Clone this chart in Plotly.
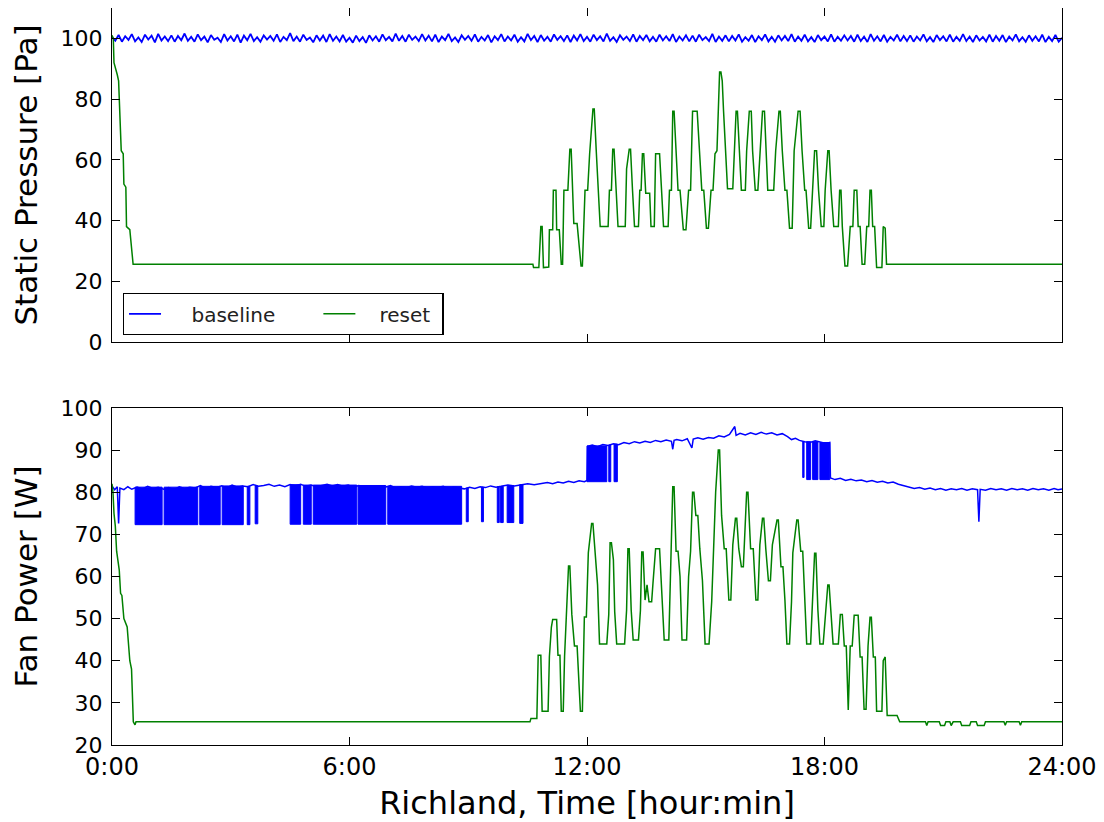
import plotly.graph_objects as go

# ---------------- data ----------------
hour_ticks = [0, 6, 12, 18, 24]
hour_labels = ["0:00", "6:00", "12:00", "18:00", "24:00"]

# Static pressure, baseline [Pa], 5-minute samples from 0:00 to 24:00
baseline_p_min = list(range(0, 1441, 5))
baseline_p_val = [
    100.4, 99.2, 101.1, 98.9, 100.7, 99.5, 101.4, 99.0, 100.3, 98.8, 101.2, 99.6, 100.9, 98.7, 101.5, 99.3, 100.6, 99.1, 101.0, 98.9, 100.8, 99.4, 101.6, 99.2,
    100.5, 98.9, 101.3, 99.4, 100.6, 98.7, 101.1, 99.5, 100.2, 98.8, 101.4, 99.3, 100.7, 99.0, 101.2, 98.6, 100.9, 99.4, 101.5, 99.1, 100.4, 98.9, 101.0, 99.6,
    100.8, 99.2, 101.3, 98.8, 100.5, 99.4, 101.7, 99.1, 100.6, 98.9, 101.2, 99.5, 100.3, 98.7, 101.0, 99.3, 100.9, 98.8, 101.4, 99.2, 100.6, 99.0, 101.1, 98.9,
    100.2, 98.6, 100.9, 99.1, 100.4, 98.5, 101.0, 99.3, 100.7, 98.9, 101.3, 99.4, 100.5, 99.0, 101.6, 99.2, 100.8, 98.9, 101.2, 99.5, 100.6, 99.1, 101.4, 99.3,
    100.9, 99.0, 101.2, 98.8, 100.6, 99.4, 101.5, 99.1, 100.3, 98.8, 101.0, 99.5, 100.8, 99.2, 101.3, 98.9, 100.5, 99.3, 101.1, 98.7, 100.7, 99.4, 101.4, 99.0,
    100.6, 99.3, 101.2, 98.9, 100.4, 99.0, 101.5, 99.4, 100.8, 98.8, 101.1, 99.2, 100.5, 98.9, 101.3, 99.5, 100.7, 99.1, 101.0, 98.8, 100.9, 99.3, 101.4, 99.1,
    100.5, 98.9, 101.2, 99.4, 100.7, 99.0, 101.6, 99.2, 100.4, 98.8, 101.0, 99.5, 100.6, 99.1, 101.3, 98.9, 100.8, 99.4, 101.1, 99.0, 100.5, 98.9, 101.2, 99.3,
    100.7, 99.1, 101.4, 98.8, 100.6, 99.3, 101.0, 99.0, 100.9, 98.9, 101.2, 99.4, 100.4, 99.1, 101.5, 98.8, 100.6, 99.2, 101.0, 99.0, 100.8, 99.3, 101.3, 98.9,
    100.4, 99.2, 101.1, 98.8, 100.7, 99.4, 101.3, 99.0, 100.5, 98.9, 101.0, 99.3, 100.8, 99.1, 101.4, 98.9, 100.6, 99.2, 101.2, 99.0, 100.4, 98.8, 101.1, 99.4,
    100.6, 99.0, 101.3, 98.9, 100.5, 99.2, 101.0, 99.3, 100.8, 98.9, 101.2, 99.1, 100.6, 98.8, 101.4, 99.2, 100.7, 99.0, 101.1, 98.9, 100.5, 99.3, 101.2, 99.0,
    100.8, 99.1, 101.0, 98.9, 100.6, 99.3, 101.3, 99.0, 100.4, 98.8, 101.1, 99.4, 100.7, 99.0, 101.2, 98.9, 100.5, 99.2, 101.4, 99.1, 100.6, 98.8, 101.0, 99.3,
    100.5, 99.0, 101.2, 98.9, 100.8, 99.2, 101.1, 98.8, 100.6, 99.3, 101.3, 99.0, 100.4, 98.9, 101.0, 99.2, 100.7, 99.0, 101.2, 98.8, 100.5, 99.1, 101.1, 98.9,
    100.2,
]

# Static pressure, reset [Pa]
reset_p_min = [0, 2, 3, 6, 8, 10, 12, 14, 17, 18, 21, 22, 27, 32,
               638, 639, 647, 650, 652, 654, 662, 663, 668, 669, 673, 674, 678, 681, 683, 685,
               691, 694, 696, 698, 700, 705, 711, 713, 717, 721, 724, 729, 731, 734, 737, 740,
               752, 754, 757, 759, 761, 764, 767, 778, 780, 784, 786, 789, 792, 798, 800, 802,
               804, 806, 809, 815, 817, 822, 824, 830, 833, 836, 843, 845, 848, 850, 852, 855,
               858, 861, 866, 870, 874, 877, 880, 887, 891, 894, 897, 901, 904, 908, 911, 914,
               917, 921, 923, 925, 927, 930, 933, 941, 944, 946, 948, 951, 954, 960, 962, 966,
               969, 971, 975, 979, 982, 986, 989, 991, 994, 1003, 1006, 1011, 1013, 1016, 1020,
               1023, 1027, 1031, 1034, 1040, 1043, 1046, 1050, 1052, 1056, 1059, 1062, 1065, 1068,
               1071, 1075, 1079, 1081, 1085, 1087, 1090, 1094, 1101, 1103, 1105, 1107, 1111, 1115,
               1119, 1123, 1125, 1129, 1131, 1134, 1137, 1141, 1144, 1147, 1149, 1151, 1153, 1156,
               1159, 1167, 1169, 1172, 1174, 1440]
reset_p_val = [101, 100, 92, 90, 88, 86, 75, 63, 62, 52, 51, 38, 37, 25.6,
               25.6, 24.5, 24.5, 38, 38, 24.5, 24.7, 37, 37, 50, 50, 37, 37, 25.6, 25.6, 50,
               50, 63.5, 63.5, 51, 39, 39, 25, 25, 50, 50, 62, 76.7, 76.7, 63, 50, 38,
               38, 50, 50, 63.5, 63.5, 50, 38, 38, 57, 63.5, 63.5, 50, 38, 38, 50, 50,
               62, 62, 49, 49, 38, 38, 62, 62, 50, 38, 38, 50, 50, 76, 76, 63,
               50, 50, 37, 37, 50, 50, 76, 76, 63, 50, 50, 37.5, 37.5, 50, 50, 62,
               63, 88.9, 88.9, 86, 76, 63, 50.5, 50.5, 63, 76, 76, 63, 50, 50, 63, 76,
               76, 63, 50, 50, 63, 76, 76, 63, 50, 50, 63, 76, 76, 63, 50,
               50, 37.5, 37.5, 63, 76, 76, 63, 50, 50, 37.5, 37.5, 50, 63, 63,
               50, 38, 38, 50, 63, 63, 50, 38, 38, 50, 50, 38, 25, 25,
               38, 38, 50, 50, 38, 38, 25.6, 25.6, 38, 38, 50, 50, 38, 38,
               24.5, 24.5, 38, 37.5, 25.6, 25.6]

# Fan power, baseline [W] - upper level
baseline_w_min = [0, 4, 8, 10, 12, 18, 24, 30, 38, 46, 54, 62, 70, 78, 86, 94, 102, 110, 118, 126,
                  134, 142, 150, 158, 166, 174, 182, 190, 198, 206, 214, 222, 230, 238, 246, 254,
                  262, 270, 278, 286, 294, 302, 310, 318, 326, 334, 342, 350, 358, 366, 374, 382,
                  390, 398, 406, 414, 422, 430, 438, 446, 454, 462, 470, 478, 486, 494, 502, 510,
                  518, 526, 534, 542, 550, 558, 566, 574, 582, 590, 600, 610, 620, 630, 640, 650,
                  660, 668, 676, 684, 692, 700, 708, 716, 720, 721, 728, 736, 744, 752, 760, 768,
                  776, 784, 792, 800, 808, 816, 824, 832, 840, 848, 850, 852, 856, 864, 872, 879,
                  881, 888, 896, 904, 912, 920, 928, 936, 944, 946, 952, 960, 968, 976, 984, 992,
                  1000, 1008, 1016, 1024, 1030, 1036, 1042, 1050, 1058, 1066, 1074, 1082, 1088, 1089,
                  1096, 1104, 1112, 1120, 1128, 1136, 1144, 1152, 1160, 1168, 1176, 1184, 1192, 1200,
                  1208, 1216, 1224, 1232, 1240, 1248, 1256, 1264, 1272, 1280, 1288, 1296, 1304, 1312,
                  1314, 1316, 1324, 1332, 1340, 1348, 1356, 1364, 1372, 1380, 1388, 1396, 1404, 1412,
                  1420, 1428, 1434, 1440]
baseline_w_val = [81.5, 80.6, 81.3, 72.6, 81.0, 80.6, 81.3, 80.7, 81.2, 80.8, 81.4, 80.9, 81.2, 80.7, 81.1, 80.6, 81.3, 80.9, 81.2, 81.0,
                  81.6, 80.9, 81.4, 81.1, 81.5, 81.0, 81.7, 81.2, 81.5, 81.3, 81.8, 81.4, 81.6, 81.9, 81.4, 81.7,
                  81.3, 81.8, 81.5, 81.9, 81.4, 81.7, 81.3, 81.6, 81.9, 81.5, 81.8, 81.4, 81.7, 81.2, 81.6, 81.3,
                  81.5, 81.1, 81.4, 81.2, 81.6, 81.0, 81.3, 81.1, 81.5, 81.2, 81.4, 81.0, 81.3, 81.1, 81.4, 80.9,
                  81.2, 81.0, 80.8, 81.2, 80.9, 81.3, 81.1, 81.5, 81.2, 81.4, 81.7, 81.5, 81.8, 82.0, 81.8, 82.1,
                  82.3, 82.0, 82.4, 82.2, 82.6, 82.3, 82.7, 82.5, 82.8, 90.9, 91.2, 90.8, 91.3, 91.1, 91.5, 91.3,
                  91.8, 91.5, 92.0, 91.7, 92.1, 91.8, 92.3, 92.0, 92.4, 92.1, 90.2, 92.3, 92.5, 92.2, 92.7, 90.5,
                  92.6, 92.9, 92.6, 93.0, 92.8, 93.4, 93.1, 93.7, 95.6, 93.5, 94.0, 93.6, 94.1, 93.7, 94.2, 93.8,
                  94.1, 93.6, 93.9, 93.2, 92.5, 92.8, 92.3, 92.0, 91.8, 92.2, 91.9, 91.6, 91.8, 83.4,
                  83.0, 83.3, 82.8, 83.1, 82.7, 82.9, 82.5, 82.8, 82.4, 82.6, 82.2, 82.4, 81.9, 81.6,
                  81.2, 80.9, 81.1, 80.7, 81.0, 80.6, 80.9, 80.5, 80.8, 80.6, 80.9, 80.5, 80.8, 80.6,
                  73.0, 80.7, 80.5, 80.9, 80.6, 80.8, 80.5, 80.9, 80.6, 80.8, 80.5, 80.9, 80.6, 80.8,
                  80.5, 80.9, 80.6, 80.8]

# Fan power, baseline [W] - intervals of fast switching between two levels (minutes)
band_start = [35, 79, 133, 167, 205, 217, 270, 290, 305, 373, 418, 537, 560, 584, 589, 599, 618,
              720, 753, 761, 1047, 1053, 1062, 1073]
band_end = [76, 130, 164, 199, 209, 221, 286, 302, 371, 415, 530, 540, 563, 587, 593, 609, 623,
            750, 756, 766, 1049, 1059, 1070, 1088]
band_low = [72.3, 72.3, 72.3, 72.3, 72.3, 72.5, 72.4, 72.4, 72.4, 72.4, 72.4, 73.0, 73.0, 72.8, 72.8, 72.8, 72.6,
            82.5, 82.5, 82.5, 83.5, 83.0, 83.0, 83.0]
band_high = [81.2, 81.2, 81.4, 81.5, 81.4, 81.5, 81.8, 81.7, 81.7, 81.6, 81.4, 81.0, 81.2, 81.3, 81.4, 81.6, 81.8,
             91.0, 91.2, 91.4, 92.0, 92.0, 92.0, 91.8]

# Fan power, reset [W]
reset_w_min = [0, 1.5, 3, 5, 7, 9, 11, 13, 15, 18, 20, 23, 27, 29.6, 32.3, 34.9, 36.4,
               633.6, 635, 644, 646, 650, 652, 661, 663, 666, 668, 674, 676, 679, 681, 684,
               686, 689, 692, 694, 697, 701, 705, 710, 713, 716, 719, 722, 727, 729, 733, 736,
               739, 750, 753, 755, 757, 760, 762, 765, 777, 780, 782, 784, 787, 790, 798, 801,
               803, 805, 808, 811, 814, 818, 820, 824, 830, 834, 837, 844, 847, 850, 852, 855,
               858, 861, 864, 871, 874, 877, 880, 882, 885, 888, 891, 895, 899, 905, 909, 912,
               915, 919, 921, 924, 928, 931, 935, 938, 941, 945, 947, 950, 954, 957, 962, 964,
               968, 972, 976, 979, 982, 986, 988, 991, 995, 998, 1001, 1008, 1010, 1014, 1017,
               1020, 1023, 1027, 1030, 1032, 1038, 1040, 1044, 1047, 1050, 1053, 1059, 1062, 1065,
               1067, 1070, 1073, 1078, 1082, 1085, 1087, 1090, 1093, 1101, 1104, 1107, 1110, 1113,
               1116, 1119, 1122, 1125, 1131, 1134, 1137, 1140, 1143, 1146, 1149, 1151, 1154, 1157,
               1159, 1167, 1169, 1172, 1175, 1190, 1194,
               1233, 1235, 1237, 1254, 1256, 1262, 1264, 1270, 1272, 1275, 1286,
               1288, 1300, 1302, 1310, 1312, 1322, 1324, 1352, 1354, 1356, 1375, 1377, 1379, 1440]
reset_w_val = [82, 80, 75, 72, 66, 64, 61.5, 56, 55.5, 50, 49, 48, 40, 38, 25.5, 24.8, 25.5,
               25.5, 26.3, 26.3, 41.3, 41.3, 28, 28, 41, 48, 49.8, 49.8, 41.3, 41.3, 28, 28,
               41, 51, 62.5, 62.5, 51, 43.5, 43.5, 28, 28, 50.4, 50.4, 65.6, 72.6, 72.6, 64, 58,
               44, 44, 51, 68, 68, 64, 51.6, 44, 44, 52, 66.6, 66.6, 52, 44.9, 44.9, 52,
               65.8, 65.8, 54.4, 58, 54, 54, 58.4, 66.6, 66.6, 52, 44.9, 44.9, 66, 81.3, 81.3, 66,
               66, 60, 44.9, 44.9, 60, 66, 80, 80, 74.5, 74.5, 66.6, 59, 44, 44, 54, 65.6,
               80, 90, 90, 74.5, 66.6, 66.6, 54.4, 54.4, 67.5, 73.8, 73.8, 66.6, 62.3, 62.3, 80, 80,
               66.6, 66.6, 54.4, 54.4, 67.5, 73.8, 73.8, 66.6, 59, 59, 67.5, 73.4, 73.4, 62.3, 62.3,
               54.4, 44, 44, 54, 65.6, 73.4, 73.4, 66, 66, 53.6, 44, 44, 54, 65.5,
               65.5, 52, 44, 44, 52, 58, 58, 51.2, 44, 44, 51, 51, 43.5, 43.5,
               28.3, 43.5, 43.5, 50.8, 50.8, 40.9, 40.9, 28.5, 28.5, 43.5, 50.3, 50.3, 40.9, 40.9,
               28, 28, 40, 40.9, 27, 27, 25.5,
               25.5, 24.6, 25.5, 25.5, 24.6, 24.6, 25.5, 25.5, 24.6, 25.5, 25.5,
               24.6, 24.6, 25.5, 25.5, 24.6, 24.6, 25.5, 25.5, 24.7, 25.5, 25.5, 24.7, 25.5, 25.5]

BLUE = "#0000ff"
GREEN = "#008000"
FONT = "DejaVu Sans"
NB = "\u00a0"


def hours(mins):
    return [m / 60.0 for m in mins]


# band polygons built from the band tables
band_x, band_y = [], []
for s, e, lo, hi in zip(band_start, band_end, band_low, band_high):
    band_x += [s / 60.0, e / 60.0, e / 60.0, s / 60.0, s / 60.0, None]
    band_y += [lo, lo, hi, hi, lo, None]

fig = go.Figure()

# top panel
fig.add_trace(go.Scatter(x=hours(baseline_p_min), y=baseline_p_val, mode="lines",
                         name=NB * 4 + "baseline" + NB * 6,
                         line=dict(color=BLUE, width=1.8), xaxis="x2", yaxis="y2"))
fig.add_trace(go.Scatter(x=hours(reset_p_min), y=reset_p_val, mode="lines",
                         name=NB * 3 + "reset" + NB,
                         line=dict(color=GREEN, width=1.5), xaxis="x2", yaxis="y2"))

# bottom panel
fig.add_trace(go.Scatter(x=band_x, y=band_y, mode="lines", fill="toself", fillcolor=BLUE,
                         line=dict(color=BLUE, width=1), showlegend=False, hoverinfo="skip",
                         xaxis="x", yaxis="y"))
fig.add_trace(go.Scatter(x=hours(baseline_w_min), y=baseline_w_val, mode="lines", name="baseline",
                         line=dict(color=BLUE, width=1.5), showlegend=False, xaxis="x", yaxis="y"))
fig.add_trace(go.Scatter(x=hours(reset_w_min), y=reset_w_val, mode="lines", name="reset",
                         line=dict(color=GREEN, width=1.5), showlegend=False, xaxis="x", yaxis="y"))

axis_common = dict(showline=True, linecolor="black", linewidth=1.3, mirror="allticks",
                   ticks="inside", ticklen=8, tickwidth=1, tickcolor="black",
                   showgrid=False, zeroline=False, automargin=False)

XT = dict(family=FONT, size=24, color="black")
YT = dict(family=FONT, size=22, color="black")

fig.update_layout(
    width=1096, height=814,
    margin=dict(l=104, r=42, t=0, b=77),
    paper_bgcolor="white", plot_bgcolor="white",
    font=dict(family=FONT, color="black"),
    xaxis=dict(domain=[0, 1], anchor="y", range=[0, 24], tickvals=hour_ticks, ticktext=hour_labels,
               tickfont=XT,
               title=dict(text="Richland, Time [hour:min]", font=dict(family=FONT, size=32), standoff=11),
               **axis_common),
    yaxis=dict(domain=[0, 0.4573], anchor="x", range=[20, 100], tickvals=list(range(20, 101, 10)),
               tickfont=YT, ticklabelstandoff=4,
               title=dict(text="Fan Power [W]", font=dict(family=FONT, size=31), standoff=15),
               **axis_common),
    xaxis2=dict(domain=[0, 1], anchor="y2", range=[0, 24], tickvals=hour_ticks, showticklabels=False,
                matches="x", **axis_common),
    yaxis2=dict(domain=[0.5468, 1], anchor="x2", range=[0, 110], tickvals=list(range(0, 101, 20)),
                tickfont=YT, ticklabelstandoff=4,
                title=dict(text="Static Pressure [Pa]", font=dict(family=FONT, size=31), standoff=15),
                **axis_common),
    legend=dict(orientation="h", x=0.0113, y=0.6132, xanchor="left", yanchor="top",
                bgcolor="white", bordercolor="black", borderwidth=1.3,
                font=dict(family=FONT, size=20, color="#222222"),
                itemwidth=32, traceorder="normal"),
    showlegend=True,
)

fig.write_html("out.html")
